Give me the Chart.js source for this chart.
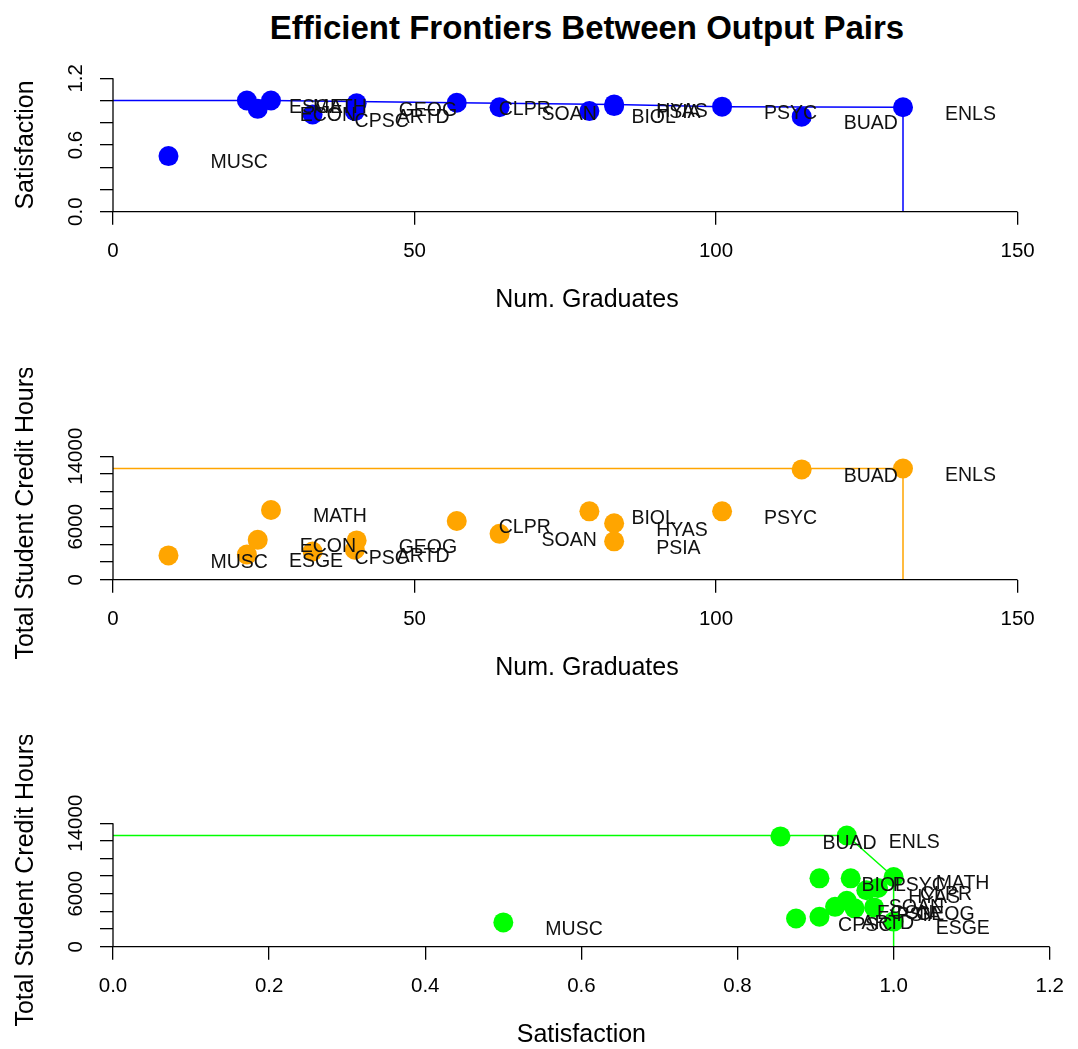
<!DOCTYPE html>
<html>
<head>
<meta charset="utf-8">
<script src="https://cdn.jsdelivr.net/npm/chart.js@4"></script>
<style>
  html, body { margin: 0; padding: 0; background: #fff; overflow: hidden; }
  #page { position: relative; width: 1078px; height: 1049px; overflow: hidden; }
  #title { position: absolute; left: 113px; width: 948px; top: 8px; text-align: center;
    font: bold 33px "Liberation Sans", Arial, sans-serif; color: #000; line-height: 40px; }
  canvas { position: absolute; left: 0; }
</style>
</head>
<body>
<div id="page">
  <div id="title">Efficient Frontiers Between Output Pairs</div>
  <canvas id="c1" width="1078" height="368" style="top:0px"></canvas>
  <canvas id="c2" width="1078" height="368" style="top:368px"></canvas>
  <canvas id="c3" width="1078" height="368" style="top:735px"></canvas>
</div>
<script>
// departments and their three outputs
const depts = ["MUSC", "ESGE", "ECON", "MATH", "CPSC", "ARTD", "GEOG", "CLPR",
  "SOAN", "BIOL", "HYAS", "PSIA", "PSYC", "BUAD", "ENLS"];
const numGrads = [9.2, 22.2, 24.0, 26.2, 33.1, 40.1, 40.4, 57.0,
  64.1, 79.0, 83.1, 83.1, 101.0, 114.2, 131.0];
const satisfaction = [0.50, 1.00, 0.925, 1.00, 0.875, 0.905, 0.975, 0.98,
  0.94, 0.905, 0.965, 0.95, 0.945, 0.855, 0.94];
const creditHours = [2750, 2850, 4520, 7900, 3200, 3400, 4450, 6650,
  5200, 7750, 6400, 4350, 7750, 12500, 12600];

// tick positions and the ones that get a printed label
const gradTicks = [0, 50, 100, 150];
const satTicks = [0, 0.2, 0.4, 0.6, 0.8, 1.0, 1.2];
const creditTicks = [0, 2000, 4000, 6000, 8000, 10000, 12000, 14000];
const gradTickLabels = [0, 50, 100, 150];
const satTickLabels = [0, 0.6, 1.2];
const creditTickLabels = [0, 6000, 14000];
const satTickLabelsX = [0, 0.2, 0.4, 0.6, 0.8, 1.0, 1.2];

const FONT = '"Liberation Sans", Arial, sans-serif';

// non-dominated points (maximise both), closed to the axes
function frontier(xs, ys) {
  const idx = xs.map((_, i) => i).sort((a, b) => xs[b] - xs[a] || ys[b] - ys[a]);
  const eff = [];
  let best = -Infinity;
  idx.forEach((i) => {
    if (ys[i] > best) {
      eff.push({ x: xs[i], y: ys[i] });
      best = ys[i];
    }
  });
  eff.reverse();
  return [{ x: 0, y: eff[0].y }, ...eff, { x: eff[eff.length - 1].x, y: 0 }];
}

// R style axis line: only from first to last tick
const rAxes = {
  id: 'rAxes',
  afterDraw(chart) {
    const ctx = chart.ctx;
    const area = chart.chartArea;
    ctx.save();
    ctx.strokeStyle = '#000';
    ctx.lineWidth = 1.3;
    Object.values(chart.scales).forEach((s) => {
      const t = s.ticks;
      const a = s.getPixelForValue(t[0].value);
      const b = s.getPixelForValue(t[t.length - 1].value);
      ctx.beginPath();
      if (s.axis === 'x') {
        ctx.moveTo(a, area.bottom);
        ctx.lineTo(b, area.bottom);
      } else {
        ctx.moveTo(area.left, a);
        ctx.lineTo(area.left, b);
      }
      ctx.stroke();
    });
    ctx.restore();
  }
};

// department names next to each point
const pointNames = {
  id: 'pointNames',
  afterDatasetsDraw(chart) {
    const ctx = chart.ctx;
    const meta = chart.getDatasetMeta(0);
    ctx.save();
    ctx.font = '19.5px ' + FONT;
    ctx.fillStyle = '#111';
    ctx.textAlign = 'left';
    ctx.textBaseline = 'middle';
    meta.data.forEach((pt, i) => {
      ctx.fillText(depts[i], pt.x + 42, pt.y + 7);
    });
    ctx.restore();
  }
};

function labelIn(list, digits) {
  return (v) => list.some((l) => Math.abs(l - v) < 1e-6) ? (digits ? v.toFixed(digits) : String(v)) : '';
}

function makePanel(id, xs, ys, color, xTitle, yTitle, xTicks, yTicks, xLabels, yLabels, xDigits, yDigits, yPad) {
  const xMax = 1.2 * Math.max(...xs);
  const yMax = 1.2 * Math.max(...ys);
  const axisBase = {
    type: 'linear',
    grid: { display: true, drawOnChartArea: false, drawTicks: true, tickLength: 13, color: '#000', lineWidth: 1.3 },
    border: { display: false },
  };
  new Chart(document.getElementById(id), {
    type: 'scatter',
    data: {
      datasets: [
        {
          data: xs.map((x, i) => ({ x: x, y: ys[i] })),
          backgroundColor: color,
          borderColor: color,
          pointRadius: 10,
          pointBorderWidth: 0,
          showLine: false,
          clip: false,
        },
        {
          data: frontier(xs, ys),
          borderColor: color,
          borderWidth: 1.5,
          pointRadius: 0,
          showLine: true,
          tension: 0,
          fill: false,
          clip: false,
        }
      ]
    },
    options: {
      responsive: false,
      animation: false,
      devicePixelRatio: 1,
      layout: { padding: { top: 78.3, right: 17, bottom: 0, left: 0 } },
      plugins: { legend: { display: false }, tooltip: { enabled: false } },
      scales: {
        x: Object.assign({}, axisBase, {
          min: 0,
          max: xMax,
          afterBuildTicks: (s) => { s.ticks = xTicks.map((v) => ({ value: v })); },
          ticks: {
            maxRotation: 0,
            autoSkip: false,
            padding: 14,
            color: '#000',
            font: { family: FONT, size: 20.5 },
            callback: labelIn(xLabels, xDigits),
          },
          title: { display: true, text: xTitle, color: '#000', font: { family: FONT, size: 25 }, padding: { top: 0, bottom: 53 } },
          afterFit: (s) => { s.height = 156.3; },
        }),
        y: Object.assign({}, axisBase, {
          min: 0,
          max: yMax,
          afterBuildTicks: (s) => { s.ticks = yTicks.map((v) => ({ value: v })); },
          ticks: {
            minRotation: 90,
            maxRotation: 90,
            autoSkip: false,
            crossAlign: 'center',
            padding: yPad,
            color: '#000',
            font: { family: FONT, size: 20.5 },
            callback: labelIn(yLabels, yDigits),
          },
          title: { display: true, text: yTitle, color: '#000', font: { family: FONT, size: 25 }, padding: { top: 11, bottom: 0 } },
          afterFit: (s) => { s.width = 113; },
        }),
      }
    },
    plugins: [rAxes, pointNames]
  });
}

makePanel('c1', numGrads, satisfaction, '#0000ff', 'Num. Graduates', 'Satisfaction',
  gradTicks, satTicks, gradTickLabels, satTickLabels, 0, 1, 9);
makePanel('c2', numGrads, creditHours, '#ffa500', 'Num. Graduates', 'Total Student Credit Hours',
  gradTicks, creditTicks, gradTickLabels, creditTickLabels, 0, 0, -5);
makePanel('c3', satisfaction, creditHours, '#00ff00', 'Satisfaction', 'Total Student Credit Hours',
  satTicks, creditTicks, satTickLabelsX, creditTickLabels, 1, 0, -5);
</script>
</body>
</html>
